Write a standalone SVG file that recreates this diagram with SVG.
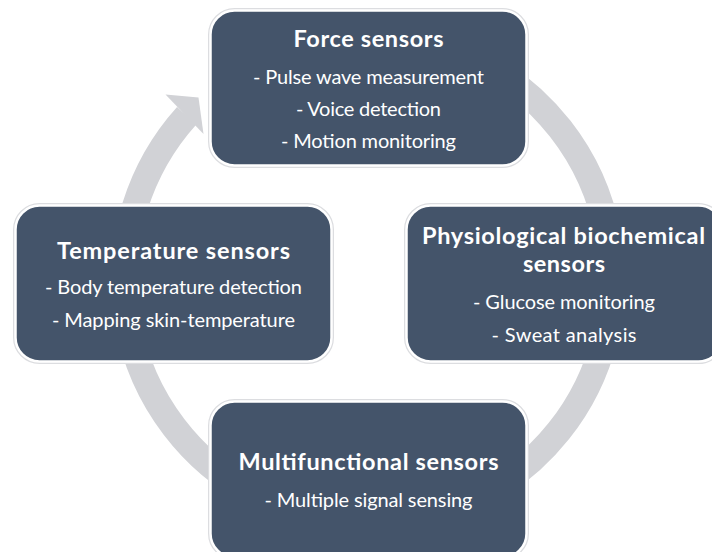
<svg xmlns="http://www.w3.org/2000/svg" width="712" height="552" viewBox="0 0 712 552">
  <style>
    .ring { fill: none; stroke: #D1D2D6; stroke-width: 26; }
    .head { fill: #D1D2D6; }
    .halo { fill: none; stroke: #DCDDE0; stroke-width: 5; }
    .box { fill: #44546A; stroke: #FFFFFF; stroke-width: 2.5; }
    text { font-family: Lato, "Open Sans", "Liberation Sans", sans-serif; fill: #FFFFFF; text-anchor: middle; }
    .title { font-size: 23.5px; font-weight: bold; }
    .item { font-size: 20px; }
  </style>

  <!-- continuous cycle ring with its single arrowhead -->
  <g id="connectors">
    <path class="ring" d="M 368 35 A 244 244 0 1 1 186.7 115.7"/>
    <polygon class="head" points="165.5,94.5 198.5,97.5 203.5,134"/>
  </g>

  <g id="node-force">
    <rect class="halo" x="210.5" y="10.5" width="316" height="155" rx="24"/>
    <rect class="box" x="210.5" y="10.5" width="316" height="155" rx="24"/>
    <text class="title" x="368.5" y="47" textLength="150" lengthAdjust="spacing">Force sensors</text>
    <text class="item" x="368.5" y="83.5" textLength="231" lengthAdjust="spacing">- Pulse wave measurement</text>
    <text class="item" x="368.5" y="115.7" textLength="145" lengthAdjust="spacing">- Voice detection</text>
    <text class="item" x="368.5" y="148" textLength="175" lengthAdjust="spacing">- Motion monitoring</text>
  </g>

  <g id="node-temperature">
    <rect class="halo" x="15.5" y="205.5" width="316" height="156" rx="24"/>
    <rect class="box" x="15.5" y="205.5" width="316" height="156" rx="24"/>
    <text class="title" x="173.5" y="258.5" textLength="233" lengthAdjust="spacing">Temperature sensors</text>
    <text class="item" x="173.5" y="294.3" textLength="257" lengthAdjust="spacing">- Body temperature detection</text>
    <text class="item" x="173.5" y="326.7" textLength="243" lengthAdjust="spacing">- Mapping skin-temperature</text>
  </g>

  <g id="node-physiological">
    <rect class="halo" x="406.5" y="205.5" width="316" height="156" rx="24"/>
    <rect class="box" x="406.5" y="205.5" width="316" height="156" rx="24"/>
    <text class="title" x="563.5" y="243.5" textLength="283" lengthAdjust="spacing">Physiological biochemical</text>
    <text class="title" x="564" y="272" textLength="82" lengthAdjust="spacing">sensors</text>
    <text class="item" x="564" y="309.3" textLength="182" lengthAdjust="spacing">- Glucose monitoring</text>
    <text class="item" x="564" y="341.7" textLength="145" lengthAdjust="spacing">- Sweat analysis</text>
  </g>

  <g id="node-multifunctional">
    <rect class="halo" x="210.5" y="401.5" width="316" height="156" rx="24"/>
    <rect class="box" x="210.5" y="401.5" width="316" height="156" rx="24"/>
    <text class="title" x="368.5" y="470" textLength="260" lengthAdjust="spacing">Multifunctional sensors</text>
    <text class="item" x="368.5" y="506.7" textLength="208" lengthAdjust="spacing">- Multiple signal sensing</text>
  </g>
</svg>
